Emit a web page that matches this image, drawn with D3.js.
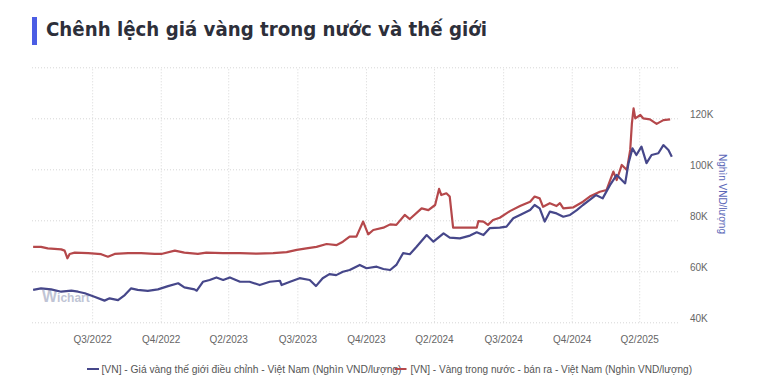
<!DOCTYPE html>
<html><head><meta charset="utf-8">
<script src="https://cdn.jsdelivr.net/npm/d3@7"></script>
<style>body{margin:0;background:#fff}svg{display:block}</style>
</head><body><svg id="c" width="760" height="391"></svg>
<script>
const titleText = "Chênh lệch giá vàng trong nước và thế giới";
const yAxisTitle = "Nghìn VND/lượng";
const seriesNames = [
  "[VN] - Giá vàng thế giới điều chỉnh - Việt Nam (Nghìn VND/lượng)",
  "[VN] - Vàng trong nước - bán ra - Việt Nam (Nghìn VND/lượng)"
];
const xTickDates = ["2022-08-31","2022-12-31","2023-04-30","2023-08-31","2023-12-31","2024-04-30","2024-08-31","2024-12-31","2025-04-30"];
const xTickLabels = ["Q3/2022","Q4/2022","Q2/2023","Q3/2023","Q4/2023","Q2/2024","Q3/2024","Q4/2024","Q2/2025"];
const yTickValues = [40, 60, 80, 100, 120];
const yTickLabels = ["40K","60K","80K","100K","120K"];
const yGridValues = [40, 60, 80, 100, 120, 140];

const worldDates = ["2022-05-18","2022-06-01","2022-06-19","2022-07-07","2022-07-25","2022-08-06","2022-08-18","2022-09-04","2022-09-22","2022-10-01","2022-10-16","2022-10-28","2022-11-08","2022-11-20","2022-12-08","2022-12-26","2023-01-13","2023-01-31","2023-02-11","2023-03-01","2023-03-05","2023-03-16","2023-03-28","2023-04-09","2023-04-21","2023-05-03","2023-05-21","2023-06-07","2023-06-25","2023-07-13","2023-07-31","2023-08-03","2023-08-18","2023-09-04","2023-09-22","2023-10-03","2023-10-15","2023-10-27","2023-11-08","2023-11-20","2023-12-02","2023-12-20","2024-01-01","2024-01-19","2024-01-31","2024-02-12","2024-02-23","2024-03-06","2024-03-18","2024-03-30","2024-04-17","2024-04-29","2024-05-17","2024-05-28","2024-06-15","2024-07-03","2024-07-15","2024-07-27","2024-08-07","2024-08-25","2024-09-06","2024-09-18","2024-09-30","2024-10-18","2024-10-26","2024-11-04","2024-11-13","2024-11-22","2024-12-04","2024-12-16","2024-12-28","2025-01-09","2025-01-20","2025-02-01","2025-02-12","2025-02-24","2025-03-09","2025-03-21","2025-04-02","2025-04-05","2025-04-11","2025-04-18","2025-04-25","2025-05-04","2025-05-13","2025-05-22","2025-06-03","2025-06-12","2025-06-21","2025-06-27"];
const worldValues = [52.7,53.3,52.9,52.0,52.4,52.0,51.4,50.0,48.5,49.4,48.7,50.7,53.3,52.7,52.3,52.9,54.2,55.3,53.7,52.9,52.4,55.9,56.6,57.6,56.6,57.6,55.9,55.9,54.6,55.9,56.3,54.6,55.9,57.3,56.6,54.2,57.3,58.9,58.5,59.8,60.5,62.5,61.2,61.8,60.9,60.5,62.5,67.1,66.7,69.6,74.2,71.6,74.9,73.2,72.9,74.0,75.3,74.2,76.9,77.1,77.5,80.8,82.1,84.0,86.0,84.7,79.5,83.4,82.7,81.4,82.1,84.0,86.0,88.0,89.9,88.6,93.8,97.8,95.1,94.5,102.4,108.2,105.6,108.9,102.4,105.6,106.3,109.5,107.6,104.9];

const domesticDates = ["2022-05-18","2022-06-01","2022-06-13","2022-07-07","2022-07-13","2022-07-18","2022-07-22","2022-07-31","2022-08-24","2022-09-16","2022-09-28","2022-10-10","2022-11-03","2022-11-26","2022-12-20","2023-01-01","2023-01-25","2023-02-11","2023-03-07","2023-03-22","2023-04-21","2023-05-21","2023-06-20","2023-07-19","2023-08-12","2023-08-30","2023-09-16","2023-10-04","2023-10-22","2023-11-09","2023-11-20","2023-12-02","2023-12-14","2023-12-26","2024-01-04","2024-01-13","2024-01-31","2024-02-12","2024-02-23","2024-03-09","2024-03-18","2024-04-08","2024-04-20","2024-05-02","2024-05-09","2024-05-13","2024-05-22","2024-05-28","2024-06-03","2024-07-15","2024-07-18","2024-07-27","2024-08-04","2024-08-13","2024-08-25","2024-09-12","2024-09-30","2024-10-18","2024-10-26","2024-11-04","2024-11-10","2024-11-22","2024-12-04","2024-12-10","2024-12-16","2025-01-03","2025-01-20","2025-02-01","2025-02-19","2025-03-03","2025-03-15","2025-03-21","2025-03-30","2025-04-08","2025-04-14","2025-04-17","2025-04-20","2025-04-23","2025-05-02","2025-05-07","2025-05-19","2025-05-31","2025-06-12","2025-06-24"];
const domesticValues = [69.6,69.6,69.0,68.6,68.1,65.1,66.8,67.3,67.1,66.7,65.7,66.8,67.1,67.1,66.8,66.8,68.1,67.3,66.8,67.3,67.1,67.1,66.9,67.1,67.5,68.4,69.0,69.6,70.7,70.3,71.6,73.6,73.6,79.5,74.5,76.2,77.1,78.4,78.2,82.1,80.5,84.7,84.0,86.0,92.3,89.9,90.6,89.3,77.1,77.1,79.7,79.5,78.2,80.1,81.0,83.6,85.6,87.3,89.3,88.6,85.3,86.7,85.6,86.7,84.7,85.1,87.3,89.3,91.2,91.9,99.1,95.8,101.7,99.7,107.6,118.0,123.9,120.0,121.3,120.0,119.6,117.8,119.3,119.6];

const colors = ["#46478a", "#b5484b"];

const parse = d3.utcParse("%Y-%m-%d");
const svg = d3.select("#c");
const x = d3.scaleUtc().domain([parse("2022-05-16"), parse("2025-07-08")]).range([32, 678]);
const y = d3.scaleLinear().domain([40, 140]).range([322.3, 67.3]);

// Title
svg.append("rect").attr("x", 32).attr("y", 17).attr("width", 5).attr("height", 28).attr("fill", "#4b5de4");
svg.append("text").attr("x", 46).attr("y", 36).text(titleText)
  .attr("font-family", "DejaVu Sans").attr("font-weight", "bold").attr("font-size", 19)
  .attr("fill", "#2d2f3a").attr("textLength", 441).attr("lengthAdjust", "spacingAndGlyphs");

// Gridlines
const gridStyle = g => {
  g.select(".domain").remove();
  g.selectAll(".tick text").remove();
  g.selectAll(".tick line").attr("stroke", "#d6d6d6").attr("stroke-dasharray", "1,2");
};
svg.append("g").attr("transform", "translate(32,0)")
  .call(d3.axisLeft(y).tickValues(yGridValues).tickSize(-(678 - 32)))
  .call(gridStyle);
svg.append("g").attr("transform", "translate(0,322.3)")
  .call(d3.axisBottom(x).tickValues(xTickDates.map(parse)).tickSize(-(322.3 - 67.3)))
  .call(gridStyle);

// Axes labels
const yAx = svg.append("g").attr("transform", "translate(678,0)")
  .call(d3.axisRight(y).tickValues(yTickValues).tickFormat((d, i) => yTickLabels[i]).tickSize(0).tickPadding(12));
yAx.select(".domain").remove();
yAx.selectAll("text").attr("dy", "-0.1em").attr("font-family", "Liberation Sans").attr("font-size", 10).attr("fill", "#666");

const xAx = svg.append("g").attr("transform", "translate(0,322.3)")
  .call(d3.axisBottom(x).tickValues(xTickDates.map(parse)).tickFormat((d, i) => xTickLabels[i]).tickSize(0).tickPadding(14));
xAx.select(".domain").remove();
xAx.selectAll("text").attr("font-family", "Liberation Sans").attr("font-size", 10).attr("fill", "#666");

svg.append("text").attr("transform", "translate(719,194) rotate(90)").attr("text-anchor", "middle")
  .attr("font-family", "Liberation Sans").attr("font-size", 10).attr("fill", "#5b67b8").text(yAxisTitle);

// Watermark
const wm = svg.append("text").attr("x", 42).attr("y", 302).attr("fill", "#8d95b3").attr("opacity", 0.55)
  .attr("font-family", "Liberation Sans").attr("font-weight", "bold");
wm.append("tspan").attr("font-size", 16).text("W");
wm.append("tspan").attr("font-size", 12).text("ichart");

// Lines
const line = d3.line().x(d => x(d.date)).y(d => y(d.v));
const worldData = worldDates.map((d, i) => ({date: parse(d), v: worldValues[i]}));
const domData = domesticDates.map((d, i) => ({date: parse(d), v: domesticValues[i]}));
svg.append("path").datum(domData).attr("d", line).attr("fill", "none")
  .attr("stroke", colors[1]).attr("stroke-width", 2.2).attr("stroke-linejoin", "round");
svg.append("path").datum(worldData).attr("d", line).attr("fill", "none")
  .attr("stroke", colors[0]).attr("stroke-width", 2.2).attr("stroke-linejoin", "round");

// Legend
const legendItems = [
  {sx: 87, tx: 101.5, w: 300},
  {sx: 394.5, tx: 410.5, w: 281.5}
];
legendItems.forEach((it, i) => {
  svg.append("text").attr("x", it.tx).attr("y", 372.5).text(seriesNames[i])
    .attr("font-family", "Liberation Sans").attr("font-size", 10).attr("fill", "#555")
    .attr("textLength", it.w).attr("lengthAdjust", "spacingAndGlyphs");
});
legendItems.forEach((it, i) => {
  svg.append("line").attr("x1", it.sx).attr("x2", it.sx + 12).attr("y1", 369).attr("y2", 369)
    .attr("stroke", colors[i]).attr("stroke-width", 2);
});
</script></body></html>
